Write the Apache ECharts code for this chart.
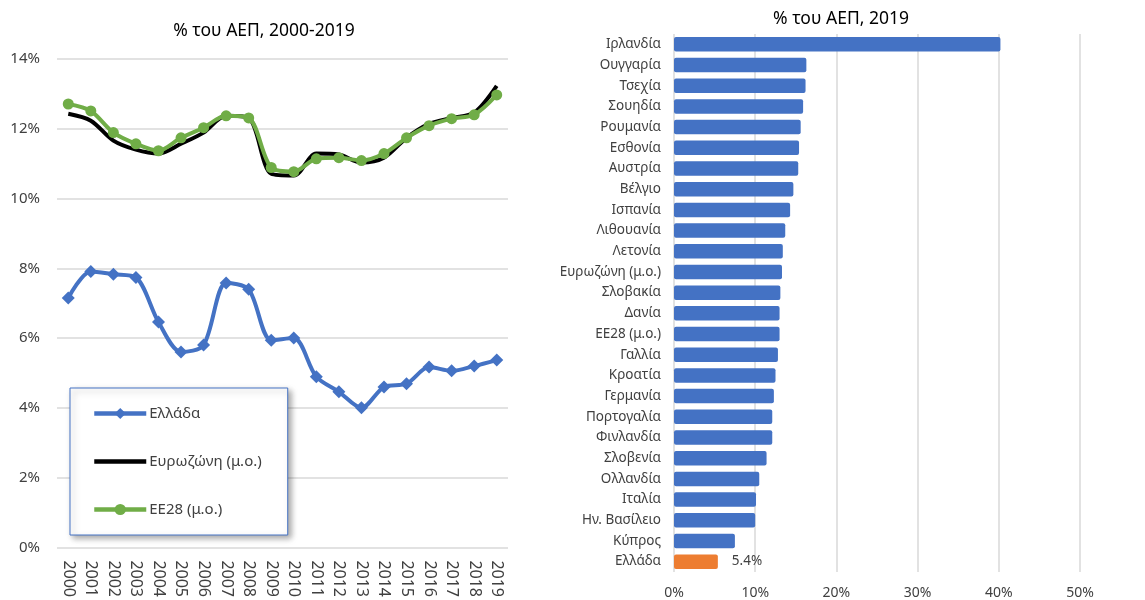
<!DOCTYPE html>
<html>
<head>
<meta charset="utf-8">
<script src="https://cdn.jsdelivr.net/npm/echarts@6/dist/echarts.min.js"></script>
<style>
  html, body { margin: 0; padding: 0; background: #fff; }
  #chart { width: 1145px; height: 600px; }
</style>
</head>
<body>
<div id="chart"></div>
<script>
const years = ['2000', '2001', '2002', '2003', '2004', '2005', '2006', '2007', '2008', '2009',
  '2010', '2011', '2012', '2013', '2014', '2015', '2016', '2017', '2018', '2019']
const greece = [7.15, 7.91, 7.83, 7.74, 6.46, 5.6, 5.8, 7.58, 7.4, 5.94, 6.0, 4.89, 4.46, 4.0, 4.6, 4.69, 5.17, 5.06, 5.2, 5.37]
const eurozone = [12.43, 12.23, 11.66, 11.4, 11.29, 11.57, 11.89, 12.37, 12.31, 10.71, 10.66, 11.29, 11.26, 11.03, 11.17, 11.74, 12.14, 12.31, 12.46, 13.23]
const eu28 = [12.71, 12.51, 11.89, 11.57, 11.37, 11.74, 12.03, 12.37, 12.31, 10.89, 10.77, 11.14, 11.17, 11.09, 11.29, 11.74, 12.09, 12.29, 12.4, 12.97]

const countries = ['Ιρλανδία', 'Ουγγαρία', 'Τσεχία', 'Σουηδία', 'Ρουμανία', 'Εσθονία', 'Αυστρία', 'Βέλγιο',
  'Ισπανία', 'Λιθουανία', 'Λετονία', 'Ευρωζώνη (μ.ο.)', 'Σλοβακία', 'Δανία', 'ΕΕ28 (μ.ο.)', 'Γαλλία',
  'Κροατία', 'Γερμανία', 'Πορτογαλία', 'Φινλανδία', 'Σλοβενία', 'Ολλανδία', 'Ιταλία', 'Ην. Βασίλειο',
  'Κύπρος', 'Ελλάδα']
const shares2019 = [40.2, 16.3, 16.2, 15.9, 15.6, 15.4, 15.3, 14.7, 14.3, 13.7, 13.4, 13.3, 13.1, 13.0, 13.0,
  12.8, 12.5, 12.3, 12.1, 12.1, 11.4, 10.5, 10.1, 10.0, 7.5, 5.4]
const highlight = 'Ελλάδα'

const font = 'Noto Sans'
const textColor = '#404040'
const gridColor = '#d9d9d9'

const chart = echarts.init(document.getElementById('chart'))

chart.setOption({
  animation: false,
  textStyle: { fontFamily: font, color: textColor },
  title: [
    {
      text: '% του ΑΕΠ, 2000-2019',
      left: 259, top: 17, textAlign: 'center',
      textStyle: { fontFamily: font, fontSize: 17.5, fontWeight: 'normal', color: '#000' },
    },
    {
      text: '% του ΑΕΠ, 2019',
      left: 836, top: 5, textAlign: 'center',
      textStyle: { fontFamily: font, fontSize: 17.5, fontWeight: 'normal', color: '#000' },
    },
  ],
  legend: {
    orient: 'vertical',
    left: 70, top: 388,
    padding: [18, 26, 18, 22],
    itemGap: 33,
    itemWidth: 52, itemHeight: 14,
    backgroundColor: '#fff',
    borderColor: '#4472c4', borderWidth: 1,
    shadowColor: 'rgba(0,0,0,0.35)', shadowBlur: 6, shadowOffsetX: 3, shadowOffsetY: 3,
    lineStyle: { width: 4.5 },
    textStyle: { fontFamily: font, fontSize: 15, color: textColor, padding: [0, 0, 0, -2] },
    data: [
      'Ελλάδα',
      { name: 'Ευρωζώνη (μ.ο.)', itemStyle: { opacity: 0 } },
      'ΕΕ28 (μ.ο.)',
    ],
  },
  grid: [
    { left: 57, right: 637, top: 59, bottom: 52 },
    { left: 674, right: 65, top: 34, bottom: 25 },
  ],
  xAxis: [
    {
      gridIndex: 0, type: 'category', data: years, boundaryGap: true,
      axisLine: { show: false }, axisTick: { show: false },
      axisLabel: { rotate: -90, margin: 13, fontSize: 16, color: textColor, fontFamily: font },
    },
    {
      gridIndex: 1, type: 'value', min: 0, max: 50, interval: 10,
      axisLine: { show: false }, axisTick: { show: false },
      axisLabel: { formatter: '{value}%', margin: 14, fontSize: 14, color: textColor, fontFamily: font },
      splitLine: { lineStyle: { color: gridColor, width: 1.5 } },
    },
  ],
  yAxis: [
    {
      gridIndex: 0, type: 'value', min: 0, max: 14, interval: 2,
      axisLine: { show: false }, axisTick: { show: false },
      axisLabel: { formatter: '{value}%', margin: 17, fontSize: 15, color: textColor, fontFamily: font },
      splitLine: { lineStyle: { color: gridColor, width: 1.5 } },
    },
    {
      gridIndex: 1, type: 'category', data: countries, inverse: true,
      axisLine: { show: false }, axisTick: { show: false },
      axisLabel: { margin: 13, fontSize: 13.5, color: textColor, fontFamily: font },
    },
  ],
  series: [
    {
      name: 'Ελλάδα', type: 'line', xAxisIndex: 0, yAxisIndex: 0, data: greece,
      smooth: 0.3, symbol: 'diamond', symbolSize: 13,
      lineStyle: { color: '#4472c4', width: 4 },
      itemStyle: { color: '#4472c4' },
    },
    {
      name: 'Ευρωζώνη (μ.ο.)', type: 'line', xAxisIndex: 0, yAxisIndex: 0, data: eurozone,
      smooth: 0.3, symbol: 'none', showSymbol: false,
      lineStyle: { color: '#000', width: 4 },
      itemStyle: { color: '#000' },
    },
    {
      name: 'ΕΕ28 (μ.ο.)', type: 'line', xAxisIndex: 0, yAxisIndex: 0, data: eu28,
      smooth: 0.3, symbol: 'circle', symbolSize: 11,
      lineStyle: { color: '#70ad47', width: 4 },
      itemStyle: { color: '#70ad47' },
    },
    {
      name: 'bars', type: 'bar', xAxisIndex: 1, yAxisIndex: 1,
      barCategoryGap: '30%',
      data: shares2019.map((v, i) => ({
        value: v,
        itemStyle: { color: countries[i] === highlight ? '#ed7d31' : '#4472c4', borderRadius: 2 },
        label: countries[i] === highlight
          ? { show: true, position: 'right', distance: 14, formatter: '{c}%', fontSize: 13.5, color: textColor, fontFamily: font }
          : { show: false },
      })),
    },
  ],
})
</script>
</body>
</html>
